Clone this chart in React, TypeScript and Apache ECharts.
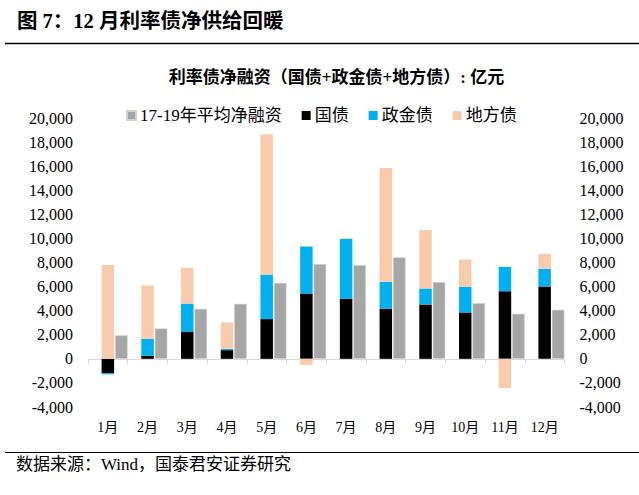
import React, { useEffect, useRef } from "react";
import * as echarts from "echarts";

const months = ["1月", "2月", "3月", "4月", "5月", "6月", "7月", "8月", "9月", "10月", "11月", "12月"];
const avgNet = [1950, 2520, 4150, 4570, 6310, 7860, 7780, 8420, 6370, 4620, 3740, 4070];
const guozhai = [-1190, 250, 2270, 720, 3300, 5420, 4980, 4150, 4510, 3850, 5620, 6000];
const zhengjin = [-100, 1410, 2320, 100, 3700, 3910, 4990, 2250, 1330, 2130, 2020, 1480];
const difang = [7800, 4430, 2970, 2200, 11660, -500, 0, 9440, 4850, 2270, -2440, 1240];

const SERIF = "'Liberation Serif', 'Noto Sans CJK SC', serif";

export default function App() {
  const ref = useRef<HTMLDivElement>(null);
  useEffect(() => {
    if (!ref.current) return;
    const chart = echarts.init(ref.current, null, { renderer: "svg" });
    const fmt = (v: number) => v.toLocaleString("en-US");
    const yAxisBase = {
      type: "value",
      min: -4000,
      max: 20000,
      interval: 2000,
      splitLine: { show: false },
      axisLine: { show: false },
      axisTick: { show: false },
    };
    chart.setOption({
      animation: false,
      backgroundColor: "#ffffff",
      textStyle: { fontFamily: SERIF },
      grid: { left: 88, right: 74.5, top: 118, bottom: 88 },
      legend: {
        left: 121,
        top: 102,
        itemWidth: 9,
        itemHeight: 9,
        itemGap: 20,
        icon: "rect",
        textStyle: { fontFamily: SERIF, fontSize: 17, color: "#000", padding: [0, 0, 0, -1] },
        data: ["17-19年平均净融资", "国债", "政金债", "地方债"],
      },
      xAxis: [
        {
          type: "category",
          data: months,
          axisLine: { onZero: true, lineStyle: { color: "#D9D9D9", width: 1 } },
          axisTick: { show: true, length: 5, interval: 0, lineStyle: { color: "#D9D9D9" } },
          axisLabel: { show: false },
        },
        {
          type: "category",
          data: months,
          position: "bottom",
          axisLine: { show: false, onZero: false },
          axisTick: { show: false },
          axisLabel: { show: true, interval: 0, margin: 13, fontSize: 14, color: "#000", fontFamily: SERIF },
        },
      ],
      yAxis: [
        {
          ...yAxisBase,
          position: "left",
          axisLabel: { formatter: fmt, fontSize: 16, color: "#000", margin: 15, fontFamily: SERIF },
        },
        {
          ...yAxisBase,
          position: "right",
          axisLabel: { formatter: fmt, fontSize: 16, color: "#000", margin: 15, fontFamily: SERIF },
        },
      ],
      graphic: [
        {
          type: "text",
          left: 17,
          top: 11,
          style: {
            text: "图 7：12 月利率债净供给回暖",
            font: `bold 20.5px ${SERIF}`,
            fill: "#000",
          },
        },
        {
          type: "line",
          shape: { x1: 5, y1: 43.5, x2: 639, y2: 43.5 },
          style: { stroke: "#000", lineWidth: 1.5 },
        },
        {
          type: "text",
          x: 336.5,
          y: 77.5,
          style: {
            text: "利率债净融资（国债+政金债+地方债）: 亿元",
            font: `bold 17px ${SERIF}`,
            fill: "#000",
            align: "center",
            verticalAlign: "middle",
          },
        },
        {
          type: "line",
          shape: { x1: 5, y1: 452.5, x2: 639, y2: 452.5 },
          style: { stroke: "#000", lineWidth: 1.2 },
        },
        {
          type: "text",
          x: 16,
          y: 464,
          style: {
            text: "数据来源：Wind，国泰君安证券研究",
            font: `17px ${SERIF}`,
            fill: "#000",
            verticalAlign: "middle",
          },
        },
      ],
      series: [
        {
          name: "_spacer",
          type: "bar",
          barWidth: 12.5,
          barGap: "8%",
          data: months.map(() => "-"),
          silent: true,
        },
        {
          name: "国债",
          type: "bar",
          stack: "rate",
          barWidth: 12.5,
          barGap: "8%",
          itemStyle: { color: "#000000" },
          data: guozhai,
        },
        {
          name: "政金债",
          type: "bar",
          stack: "rate",
          barWidth: 12.5,
          barGap: "8%",
          itemStyle: { color: "#00B0F0" },
          data: zhengjin,
        },
        {
          name: "地方债",
          type: "bar",
          stack: "rate",
          barWidth: 12.5,
          barGap: "8%",
          itemStyle: { color: "#F8CBAD" },
          data: difang,
        },
        {
          name: "17-19年平均净融资",
          type: "bar",
          barWidth: 12.5,
          barGap: "8%",
          itemStyle: { color: "#A6A6A6", borderColor: "#D0D0D0", borderWidth: 0.6 },
          data: avgNet,
        },
      ],
    });
    return () => chart.dispose();
  }, []);
  return (
    <div
      ref={ref}
      style={{ position: "fixed", left: 0, top: 0, width: 639, height: 495, background: "#fff" }}
    />
  );
}
